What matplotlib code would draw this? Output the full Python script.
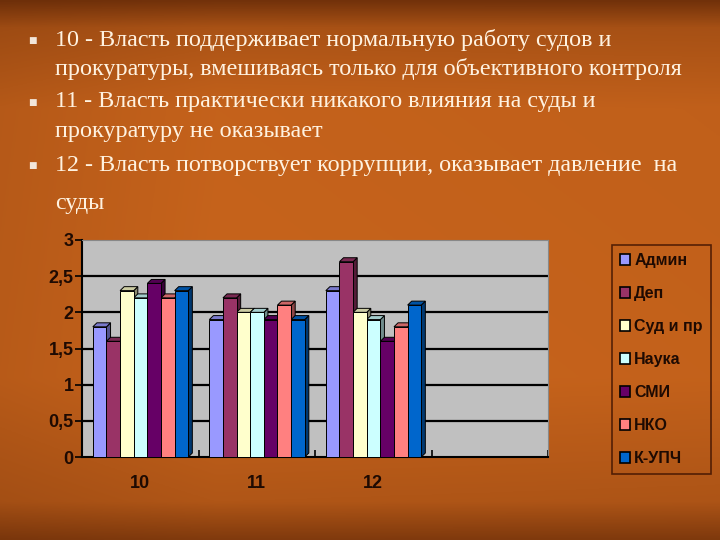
import matplotlib.pyplot as plt
import matplotlib.colors as mcolors
from matplotlib.patches import Polygon, Patch
import numpy as np

# data
categories = ['10', '11', '12', '']
series = ['Админ', 'Деп', 'Суд и пр', 'Наука', 'СМИ', 'НКО', 'К-УПЧ']
colors = ['#9999FF', '#993366', '#FFFFCC', '#CCFFFF', '#660066', '#FF8080', '#0066CC']
values = {
    'Админ':    [1.8, 1.9, 2.3],
    'Деп':      [1.6, 2.2, 2.7],
    'Суд и пр': [2.3, 2.0, 2.0],
    'Наука':    [2.2, 2.0, 1.9],
    'СМИ':      [2.4, 1.9, 1.6],
    'НКО':      [2.2, 2.1, 1.8],
    'К-УПЧ':    [2.3, 1.9, 2.1],
}
yticks = [0, 0.5, 1, 1.5, 2, 2.5, 3]
ytick_labels = ['0', '0,5', '1', '1,5', '2', '2,5', '3']

lines = [
    ('10 - Власть поддерживает нормальную работу судов и', True),
    ('прокуратуры, вмешиваясь только для объективного контроля', False),
    ('11 - Власть практически никакого влияния на суды и', True),
    ('прокуратуру не оказывает', False),
    ('12 - Власть потворствует коррупции, оказывает давление  на', True),
    ('суды', False),
]
line_y = [40, 69, 102, 131, 166, 203]

W, H = 720, 540
fig = plt.figure(figsize=(7.2, 5.4), dpi=100)

# background gradient
bg = fig.add_axes([0, 0, 1, 1], zorder=-10)
bg.axis('off')
t = np.linspace(0, 1, 300)
prof = np.interp(t, [0, 0.05, 0.2, 0.7, 0.93, 1.0], [0.3, 0.7, 0.9, 0.92, 0.75, 0.4])
xs = np.linspace(0, 1, 400)
hprof = np.interp(xs, [0, 0.3, 1], [0.88, 1.0, 0.97])
k = prof[:, None] * hprof[None, :]
dark = np.array(mcolors.to_rgb('#4A1A02'))
light = np.array(mcolors.to_rgb('#D26A1E'))
img = dark[None, None, :] + (light - dark)[None, None, :] * np.clip(k, 0, 1)[:, :, None]
bg.imshow(img, aspect='auto', extent=[0, 1, 0, 1], origin='upper')
bg.set_xlim(0, 1)
bg.set_ylim(0, 1)

# bullet text
for (txt, bullet), y in zip(lines, line_y):
    fig.text(55 / W, 1 - y / H, txt, fontsize=17.4, family='Liberation Serif',
             color='#FFF2E0', va='center', ha='left')
    if bullet:
        fig.text(32 / W, 1 - y / H, '■', fontsize=6.5, family='DejaVu Sans',
                 color='#F2E6DA', va='center', ha='center')

# chart
ax = fig.add_axes([82 / W, 1 - 457 / H, 466 / W, 217 / H])
ax.set_facecolor('#C0C0C0')
ax.set_xlim(0, 4)
ax.set_ylim(0, 3)
for y in yticks[1:-1]:
    ax.axhline(y, color='black', lw=1.6, zorder=1)

n = len(series)
bw = 0.117
dx, dy = 0.035, 0.055
for i, s in enumerate(series):
    base = np.array(mcolors.to_rgb(colors[i]))
    side = base * 0.55
    top = base * 0.8
    for j, v in enumerate(values[s]):
        x0 = j + 0.52 + (i - n / 2) * bw - dx / 2
        x1 = x0 + bw
        ax.add_patch(Polygon([(x1, 0), (x1 + dx, dy), (x1 + dx, v + dy), (x1, v)],
                             closed=True, facecolor=side, edgecolor='black', lw=0.7, zorder=3))
        ax.add_patch(Polygon([(x0, v), (x0 + dx, v + dy), (x1 + dx, v + dy), (x1, v)],
                             closed=True, facecolor=top, edgecolor='black', lw=0.7, zorder=3))
        ax.bar(x0, v, width=bw, align='edge', color=colors[i], edgecolor='black',
               lw=0.7, zorder=4)

ax.set_yticks(yticks)
ax.set_yticklabels(ytick_labels)
ax.set_xticks(range(5))
ax.set_xticklabels([])
ax.set_xticks(np.arange(4) + 0.5, minor=True)
ax.set_xticklabels(categories, minor=True)
ax.tick_params(axis='x', which='minor', length=0, pad=13)
ax.tick_params(axis='x', which='major', length=5, direction='in', width=1.2)
ax.tick_params(axis='y', length=5, width=1.2, pad=1)
for lab in ax.get_yticklabels() + ax.get_xticklabels(minor=True):
    lab.set_fontfamily('Liberation Sans')
    lab.set_fontweight('bold')
    lab.set_fontsize(13)
    lab.set_color('#1E0A02')
ax.spines['left'].set_color('black')
ax.spines['left'].set_linewidth(1.5)
ax.spines['bottom'].set_color('black')
ax.spines['bottom'].set_linewidth(1.5)
ax.spines['top'].set_color('#888888')
ax.spines['right'].set_color('#888888')

handles = [Patch(facecolor=c, edgecolor='black', lw=1.2) for c in colors]
leg = fig.legend(handles, series, loc='upper left', bbox_to_anchor=(612 / W, 1 - 245 / H),
                 borderaxespad=0, frameon=True, fancybox=False, handlelength=0.6,
                 handleheight=0.7, handletextpad=0.3, labelspacing=1.13, borderpad=0.5,
                 prop={'family': 'Liberation Sans', 'weight': 'bold', 'size': 11.5})
leg.get_frame().set_facecolor('none')
leg.get_frame().set_edgecolor('#3A1000')
leg.get_frame().set_linewidth(1.2)
for txt in leg.get_texts():
    txt.set_color('#1E0A02')

fig.savefig('out.png', dpi=100)
